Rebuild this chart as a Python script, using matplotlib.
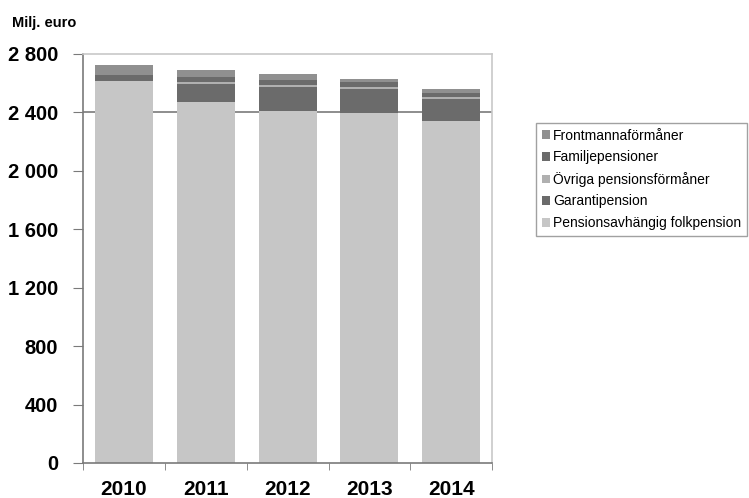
import matplotlib.pyplot as plt
import numpy as np

plt.rcParams["font.family"] = ["Liberation Sans", "DejaVu Sans"]

years = ["2010", "2011", "2012", "2013", "2014"]

# Milj. euro, bottom to top
folkpension = [2616, 2468, 2411, 2399, 2338]
garantipension = [0, 128, 160, 164, 153]
ovriga = [0, 14, 14, 14, 14]
familjepensioner = [41, 32, 39, 30, 27]
frontmanna = [66, 50, 41, 23, 27]

series = [
    ("Pensionsavhängig folkpension", folkpension, "#c6c6c6"),
    ("Garantipension", garantipension, "#6b6b6b"),
    ("Övriga pensionsförmåner", ovriga, "#b0b0b0"),
    ("Familjepensioner", familjepensioner, "#6b6b6b"),
    ("Frontmannaförmåner", frontmanna, "#909090"),
]

fig = plt.figure(figsize=(7.49, 4.98), dpi=100)
ax = fig.add_axes([0.111, 0.0703, 0.546, 0.8213])

x = np.arange(len(years))
bottom = np.zeros(len(years))
handles = []
for label, vals, color in series:
    h = ax.bar(x, vals, width=0.71, bottom=bottom, color=color, label=label, zorder=2)
    handles.append(h)
    bottom += np.array(vals)

ax.axhline(2400, color="#7a7a7a", lw=1.2, zorder=1)

ax.set_xlim(-0.5, len(years) - 0.5)
ax.set_ylim(0, 2800)
ax.set_yticks(np.arange(0, 2801, 400))
ax.set_yticklabels([f"{v:,}".replace(",", " ") for v in range(0, 2801, 400)],
                   fontsize=14.5, fontweight="bold")
ax.set_xticks(x)
ax.set_xticklabels(years, fontsize=15, fontweight="bold")
ax.set_xticks(np.arange(-0.5, len(years), 1), minor=True)
ax.tick_params(axis="x", which="major", length=0, pad=12)
ax.tick_params(axis="x", which="minor", length=5, color="#7a7a7a")
ax.tick_params(axis="y", length=7, color="#7a7a7a", pad=11)

for s in ["left", "bottom"]:
    ax.spines[s].set_color("#7a7a7a")
    ax.spines[s].set_linewidth(1.2)
for s in ["top", "right"]:
    ax.spines[s].set_color("#c8c8c8")
    ax.spines[s].set_linewidth(1.2)

fig.text(0.016, 0.954, "Milj. euro", fontsize=10.5, fontweight="bold", va="center")

leg = fig.legend(handles[::-1], [s[0] for s in series][::-1],
                 loc="upper left", bbox_to_anchor=(0.716, 0.753),
                 fontsize=10, frameon=True, fancybox=False,
                 handlelength=0.6, handleheight=0.6, handletextpad=0.2,
                 labelspacing=0.55, borderpad=0.4, borderaxespad=0)
leg.get_frame().set_edgecolor("#8a8a8a")
leg.get_frame().set_linewidth(1.0)

fig.savefig("out.png", dpi=100)
